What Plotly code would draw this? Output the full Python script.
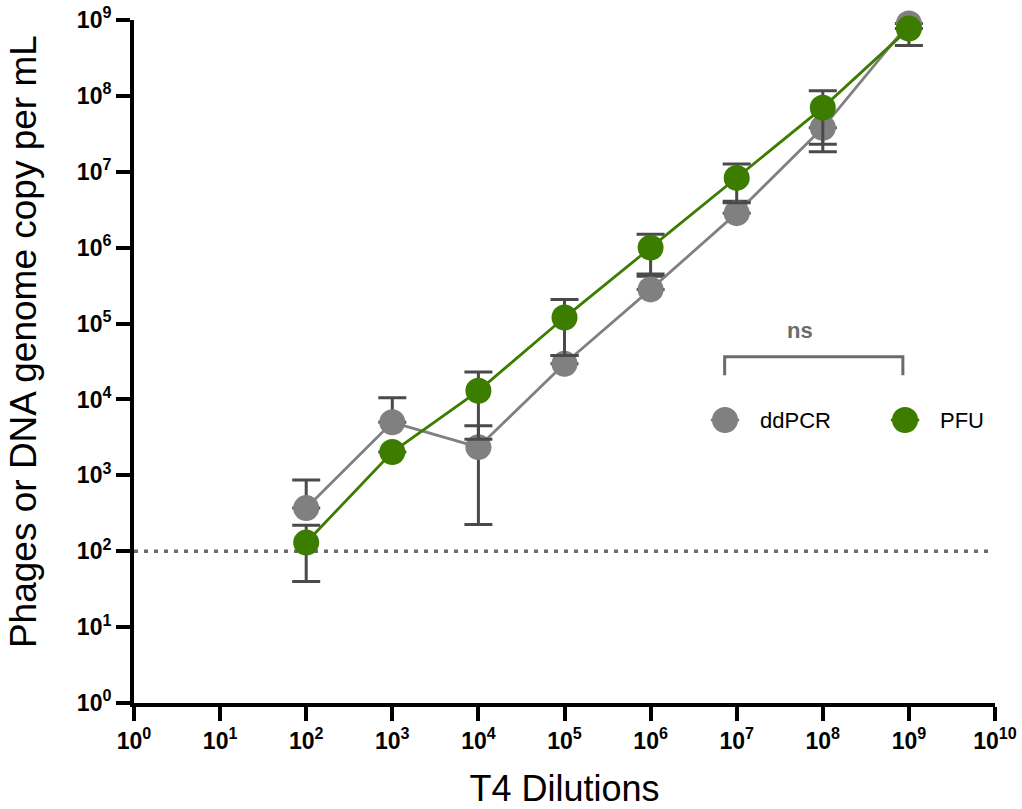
import plotly.graph_objects as go

# ---- data ----
dilutions = [1e2, 1e3, 1e4, 1e5, 1e6, 1e7, 1e8, 1e9]
ddpcr_mean = [370, 5000, 2350, 29500, 282000, 2.85e6, 3.8e7, 9.0e8]
ddpcr_upper = [870, 10500, 4500, 38000, 420000, 4.1e6, None, None]
ddpcr_lower = [None, None, 225, None, None, None, 1.83e7, None]
pfu_mean = [130, 2030, 13000, 120000, 1.0e6, 8.3e6, 7.0e7, 7.7e8]
pfu_upper = [220, None, 23000, 208000, 1.5e6, 1.27e7, 1.17e8, None]
pfu_lower = [40, None, 3000, 38000, 4.5e5, 3.9e6, 2.3e7, 4.6e8]
detection_limit = 100
series_names = ["ddPCR", "PFU"]

x_tick_exps = list(range(0, 11))
y_tick_exps = list(range(0, 10))

GRAY = "#808080"
GREEN = "#3c7d00"
ERR = "#4a4a4a"
colors = [GRAY, GREEN]


def err_plus(mean, upper):
    return [(u - m) if u is not None else 0 for m, u in zip(mean, upper)]


def err_minus(mean, lower):
    return [(m - l) if l is not None else 0 for m, l in zip(mean, lower)]


fig = go.Figure()

for name, mean, up, lo, col in zip(series_names, [ddpcr_mean, pfu_mean],
                                   [ddpcr_upper, pfu_upper], [ddpcr_lower, pfu_lower], colors):
    fig.add_trace(go.Scatter(
        x=dilutions, y=mean, name=name, mode="lines+markers",
        line=dict(color=col, width=2.8),
        marker=dict(color=col, size=26),
        error_y=dict(type="data", symmetric=False, array=err_plus(mean, up),
                     arrayminus=err_minus(mean, lo),
                     color=ERR, thickness=3, width=14),
        cliponaxis=False, showlegend=False,
    ))

# ---- legend drawn on an overlay axis in paper-like units ----
leg_cx = [0.6864, 0.8955]
leg_y = 0.4143
for name, col, cx in zip(series_names, colors, leg_cx):
    fig.add_trace(go.Scatter(
        x=[cx - 0.0165, cx + 0.0165], y=[leg_y, leg_y], mode="lines",
        line=dict(color=col, width=2.8), xaxis="x2", yaxis="y2",
        showlegend=False, hoverinfo="skip", cliponaxis=False))
    fig.add_trace(go.Scatter(
        x=[cx], y=[leg_y], mode="markers",
        marker=dict(color=col, size=26), xaxis="x2", yaxis="y2",
        showlegend=False, hoverinfo="skip", cliponaxis=False))
    fig.add_annotation(xref="paper", yref="paper", x=cx + 0.0385, y=leg_y,
                       xanchor="left", yanchor="middle", text=name, showarrow=False,
                       font=dict(family="Liberation Sans", size=22, color="black"))

# detection limit dotted line
fig.add_shape(type="line", xref="paper", yref="y", x0=0, x1=0.992,
              y0=detection_limit, y1=detection_limit,
              line=dict(color="#6b6b6b", width=3.5, dash="4px,6px"), layer="below")

# "ns" bracket
fig.add_shape(type="path", xref="paper", yref="paper",
              path="M 0.686 0.480 L 0.686 0.507 L 0.893 0.507 L 0.893 0.480",
              line=dict(color="#6b6b6b", width=3))
fig.add_annotation(xref="paper", yref="paper", x=0.791, y=0.545, text="<b>ns</b>",
                   showarrow=False, yanchor="middle",
                   font=dict(family="Liberation Sans", size=22, color="#6b6b6b"))

# y-axis title (as annotation so it can sit where the reference has it)
fig.add_annotation(xref="paper", yref="paper", x=-0.1285, y=0.529,
                   xanchor="center", yanchor="middle", textangle=-90,
                   text="Phages or DNA genome copy per mL", showarrow=False,
                   font=dict(family="Liberation Sans", size=37, color="black"))

axis_common = dict(
    type="log", showgrid=False, zeroline=False, showline=True,
    linecolor="black", linewidth=4, ticks="outside", ticklen=14,
    tickwidth=3.5, tickcolor="black",
    tickfont=dict(family="Liberation Sans", size=23, color="black", weight="bold"),
)

fig.update_layout(
    width=1022, height=809,
    margin=dict(l=134, r=27, t=20, b=106, autoexpand=False),
    plot_bgcolor="white", paper_bgcolor="white",
    font=dict(family="Liberation Sans"),
    xaxis=dict(**axis_common, range=[0, 10],
               tickvals=[10 ** e for e in x_tick_exps],
               ticktext=[f"10<sup>{e}</sup>" for e in x_tick_exps],
               title=dict(text="T4 Dilutions", font=dict(size=36, color="black"), standoff=26)),
    yaxis=dict(**axis_common, range=[0, 9],
               tickvals=[10 ** e for e in y_tick_exps],
               ticktext=[f"10<sup>{e}</sup>" for e in y_tick_exps]),
    xaxis2=dict(range=[0, 1], overlaying="x", visible=False, fixedrange=True),
    yaxis2=dict(range=[0, 1], overlaying="y", visible=False, fixedrange=True),
    showlegend=False,
)

fig.write_html("out.html")
